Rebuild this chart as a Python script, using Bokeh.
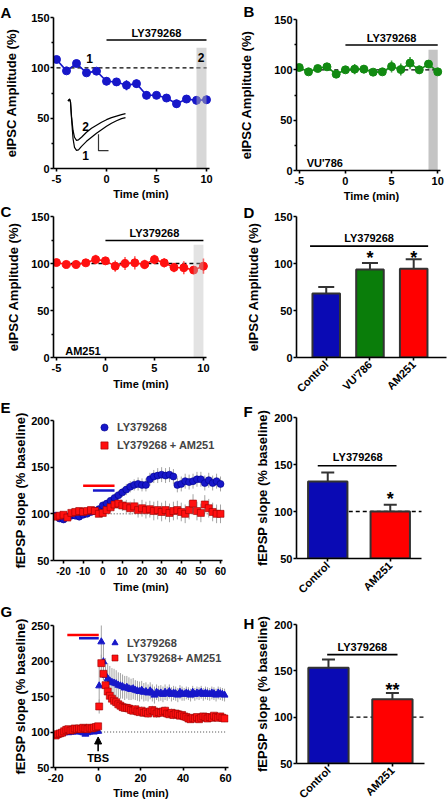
import math
from bokeh.plotting import figure
from bokeh.layouts import row, column
from bokeh.models import (Range1d, FixedTicker, Legend, LegendItem,
                          Whisker, TeeHead, Arrow, NormalHead, ColumnDataSource)
from bokeh.embed import file_html
from bokeh.resources import INLINE
from bokeh.core.properties import value

FONT = "Liberation Sans"
BLUE = "#1717c9"
BLUE_BAR = "#0a0ab4"
GREEN = "#128a12"
GREEN_ERR = "#3fa33f"
GREEN_BAR = "#0a7d0a"
RED = "#ff1010"
RED_ERR = "#ff5a5a"
RED_BAR = "#ff0000"
GREY_ERR = "#a3a3a3"

# ---------------- data ----------------
# A-C: eIPSC amplitude (%) vs time (min)
eipsc_time = [-5, -4, -3, -2, -1, 0, 1, 2, 3, 4, 5, 6, 7, 8, 9, 10]
a_amp = [108.3, 97.0, 104.3, 95.0, 96.7, 86.7, 86.0, 82.7, 84.3, 72.7, 72.7, 70.0, 64.3, 69.0, 67.7, 68.3]
a_sem = [3, 2, 3, 3, 3, 4, 4, 5, 4, 4, 3, 3, 4, 3, 4, 4]
b_amp = [102.3, 98.0, 101.3, 103.0, 95.7, 100.0, 100.7, 100.7, 97.7, 98.0, 103.3, 100.3, 106.7, 100.0, 105.7, 98.0]
b_sem = [2, 2, 2, 2, 3, 2, 5, 4, 3, 2, 6, 6, 6, 4, 4, 2]
c_amp = [101.0, 99.0, 99.0, 100.7, 104.2, 102.8, 97.2, 100.0, 100.7, 99.0, 104.2, 100.7, 95.8, 95.5, 93.0, 97.2]
c_sem = [2, 2, 2, 3, 5, 4, 6, 7, 7, 5, 5, 5, 5, 7, 4, 8]
eipsc_xticks = [-5, 0, 5, 10]
eipsc_yticks = [0, 50, 100, 150]

# A inset: representative eIPSC traces (1 = baseline, 2 = LY379268)
trace_x = [-3.85, -3.7, -3.6, -3.5, -3.35, -3.2, -3.0, -2.8, -2.5, -2.0, -1.5, -1.0, -0.5, 0.0, 0.5, 1.0, 1.5, 1.9]
trace1_y = [67, 69, 66, 50, 30, 21, 18, 18.5, 22, 27, 31, 35, 38.5, 42, 45, 47.5, 49.5, 50.5]
trace2_y = [67, 69, 66, 52, 38, 31, 28, 28.5, 31, 36, 40, 43, 46, 48.5, 50.5, 52, 53.5, 54.5]
scalebar_x = [-0.8, -0.8, 0.2]
scalebar_y = [34, 17.7, 17.7]

# D: summary bars
d_groups = ["Control", "VU'786", "AM251"]
d_mean = [68.0, 93.5, 94.5]
d_sem = [7.0, 7.0, 10.0]

# E: fEPSP slope time course
e_time = [-24, -22, -20, -18, -16, -14, -12, -10, -8, -6, -4, -2, 0, 2, 4, 6, 8, 10, 12, 14, 16, 18,
          20, 22, 24, 26, 28, 30, 32, 34, 36, 38, 40, 42, 44, 46, 48, 50, 52, 54, 56, 58, 60]
e_ly = [98, 95, 94, 97, 98, 98, 97, 99, 100, 102, 103, 105, 109, 111, 114, 117, 120, 123, 126, 129, 131, 132,
        131, 131, 137, 140, 141, 142, 141, 142, 140, 131, 132, 135, 134, 135, 137, 137, 133, 136, 133, 135, 132]
e_ly_sem = [3, 3, 3, 3, 3, 3, 3, 3, 3, 3, 3, 3, 4, 4, 4, 5, 5, 5, 6, 6, 6, 7,
            7, 7, 7, 7, 8, 8, 8, 8, 8, 8, 8, 8, 8, 8, 8, 8, 8, 8, 8, 8, 8]
e_am = [97, 98, 99, 96, 101, 102, 103, 102, 103, 104, 103, 100, 101, 104, 107, 110, 111, 109, 108, 106, 108, 104,
        106, 104, 105, 103, 104, 102, 104, 101, 103, 104, 102, 100, 104, 111, 103, 101, 110, 106, 102, 100, 100]
e_am_sem = [3, 3, 3, 3, 3, 3, 3, 3, 3, 3, 3, 3, 4, 4, 5, 5, 6, 6, 7, 7, 8, 8,
            9, 9, 9, 10, 10, 10, 10, 10, 10, 10, 10, 10, 10, 10, 10, 10, 10, 10, 10, 10, 10]
e_xticks = [-20, -10, 0, 10, 20, 30, 40, 50, 60]

# F: summary bars
f_groups = ["Control", "AM251"]
f_mean = [132.0, 100.0]
f_sem = [9.4, 7.3]

# G: LTP after TBS
g_time = [-20, -19, -18, -17, -16, -15, -14, -13, -12, -11, -10, -9, -8, -7, -6, -5, -4, -3, -2, -1, 0,
          0.5, 1.5, 2.5, 3.5, 4.5, 5.5, 6.5, 7.5, 8.5, 9.5, 10.5, 11.5, 12.5, 13.5, 14.5, 15.5, 16.5, 17.5, 18.5, 19.5,
          20.5, 21.5, 22.5, 23.5, 24.5, 25.5, 26.5, 27.5, 28.5, 29.5, 30.5, 31.5, 32.5, 33.5, 34.5, 35.5, 36.5, 37.5,
          38.5, 39.5, 40.5, 41.5, 42.5, 43.5, 44.5, 45.5, 46.5, 47.5, 48.5, 49.5, 50.5, 51.5, 52.5, 53.5, 54.5, 55.5,
          56.5, 57.5, 58.5, 59.5]
g_ly = [94, 96, 97, 98, 99, 100, 99, 100, 100, 101, 100, 101, 100, 99, 97, 99, 100, 101, 100, 101, 101,
        165, 227, 199, 180, 175, 172, 170, 169, 168, 166,
        165, 164, 162, 163, 161, 160, 161, 159, 158, 157,
        159, 156, 157, 155, 158, 155, 152, 156, 154, 155,
        153, 156, 154, 157, 153, 155, 154, 152, 156, 154,
        153, 155, 154, 152, 156, 153, 155, 154, 156, 153,
        155, 154, 153, 155, 154, 152, 155, 154, 153, 152]
g_ly_sem = [3, 3, 3, 3, 3, 3, 3, 3, 3, 3, 3, 3, 3, 3, 3, 3, 3, 3, 3, 3, 3,
            30, 30, 26, 24, 22, 21, 20, 20, 19, 18,
            18, 17, 17, 16, 16, 15, 15, 14, 14, 14,
            13, 13, 13, 12, 12, 12, 12, 11, 11, 11,
            11, 11, 10, 10, 10, 10, 10, 10, 10, 10,
            9, 9, 9, 9, 9, 9, 9, 9, 9, 9,
            9, 9, 9, 9, 9, 9, 9, 9, 9, 9]
g_am = [95, 97, 98, 99, 101, 103, 104, 102, 103, 105, 104, 105, 104, 106, 105, 104, 106, 105, 106, 107, 108,
        136, 197, 182, 166, 157, 151, 147, 144, 142, 139,
        137, 135, 134, 134, 133, 131, 130, 132, 129, 128,
        130, 127, 128, 126, 129, 131, 129, 126, 128, 127,
        129, 130, 126, 125, 127, 124, 126, 125, 123, 124,
        122, 121, 119, 118, 120, 119, 121, 118, 120, 122,
        121, 119, 121, 120, 123, 121, 120, 122, 120, 119]
g_am_sem = [3, 3, 3, 3, 3, 3, 3, 3, 3, 3, 3, 3, 3, 3, 3, 3, 3, 3, 3, 3, 3,
            10, 12, 9, 8, 8, 7, 7, 7, 6, 6,
            6, 6, 6, 6, 6, 6, 6, 6, 6, 6,
            6, 6, 6, 6, 6, 6, 6, 6, 6, 6,
            6, 6, 6, 6, 6, 6, 6, 6, 6, 6,
            5, 5, 5, 5, 5, 5, 5, 5, 5, 5,
            5, 5, 5, 5, 5, 5, 5, 5, 5, 5]
g_xticks = [-20, 0, 20, 40, 60]

# H: summary bars
h_groups = ["Control", "AM251"]
h_mean = [153.3, 119.2]
h_sem = [8.8, 7.0]

# drug application periods (min)
e_red_period = [-10, 6]
e_blue_period = [-5, 6]
g_red_period = [-14.5, 0.3]
g_blue_period = [-9, 0.3]

# shared borders per column (plots in a column get aligned frames)
LW, LL, LR = 236, 53, 8
RW, RL, RR = 212, 54, 2


# ---------------- helpers ----------------
def make_fig(w, h, l, r, t, b, xr, yr, letter, letter_offset, letter_standoff, valign="bottom"):
    p = figure(width=w, height=h, x_range=Range1d(*xr), y_range=Range1d(*yr),
               min_border_left=l, min_border_right=r, min_border_top=t, min_border_bottom=b,
               output_backend="svg", toolbar_location=None, tools="", title=letter)
    p.outline_line_color = None
    p.grid.visible = False
    p.background_fill_color = "white"
    p.border_fill_color = "white"
    p.title.text_font = FONT
    p.title.text_font_style = "bold"
    p.title.text_font_size = "15px"
    p.title.text_color = "black"
    p.title.align = "left"
    p.title.vertical_align = valign
    p.title.offset = letter_offset
    p.title.standoff = letter_standoff
    return p


def hyphen_labels(ticks):
    return {t: (("-" + str(abs(t))) if t < 0 else str(t)) for t in ticks}


def axis_style(p, xlabel, ylabel, xs, ys):
    for ax in p.axis:
        ax.axis_line_width = 1.6
        ax.axis_line_color = "black"
        ax.major_tick_line_width = 1.6
        ax.major_tick_line_color = "black"
        ax.minor_tick_line_width = 1.3
        ax.minor_tick_line_color = "black"
        ax.major_tick_in = 0
        ax.major_tick_out = 3
        ax.minor_tick_in = 0
        ax.minor_tick_out = 2
        ax.major_label_text_font = FONT
        ax.major_label_text_font_style = "bold"
        ax.major_label_text_font_size = "11px"
        ax.major_label_text_color = "black"
        ax.axis_label_text_font = FONT
        ax.axis_label_text_font_style = "bold"
        ax.axis_label_text_color = "black"
    xa = p.xaxis[0]
    ya = p.yaxis[0]
    xa.major_label_standoff = 3
    ya.major_label_standoff = 1
    xa.axis_label = xlabel
    ya.axis_label = ylabel
    xa.axis_label_text_font_size = "11px"
    ya.axis_label_text_font_size = "13px"
    xa.axis_label_standoff = xs
    ya.axis_label_standoff = ys


def txt(p, xs, ys, ss, size="11px", align="center", baseline="middle"):
    p.text(x=xs, y=ys, text=ss, text_font=value(FONT), text_font_style="bold",
           text_font_size=size, text_align=align, text_baseline=baseline, text_color="black")


def hbar(p, x0, x1, y, color="black", width=1.6):
    p.segment(x0=[x0], y0=[y], x1=[x1], y1=[y], line_color=color, line_width=width)


def time_panel(p, amp, sem, col, ecol, band_on_top, band_color, band_alpha):
    lo = [a - e for a, e in zip(amp, sem)]
    hi = [a + e for a, e in zip(amp, sem)]
    if not band_on_top:
        p.quad(left=[9], right=[10], bottom=[0], top=[120], fill_color=band_color,
               fill_alpha=band_alpha, line_color=None)
    p.line(x=[-5, 10], y=[100, 100], line_dash="4 3", line_color="black", line_width=1.3)
    p.segment(x0=eipsc_time, y0=lo, x1=eipsc_time, y1=hi, line_color=ecol, line_width=1.6)
    p.line(x=eipsc_time, y=amp, line_color=col, line_width=1.6)
    p.scatter(x=eipsc_time, y=amp, marker="circle", size=8, fill_color=col, line_color=col)
    if band_on_top:
        p.quad(left=[9], right=[10], bottom=[0], top=[120], fill_color=band_color,
               fill_alpha=band_alpha, line_color=None)
    p.xaxis.ticker = FixedTicker(ticks=eipsc_xticks)
    p.xaxis.major_label_overrides = hyphen_labels(eipsc_xticks)
    p.xaxis.bounds = (-5.3, 10.3)
    p.yaxis.ticker = FixedTicker(ticks=eipsc_yticks, minor_ticks=[25, 75, 125])


def bar_panel(p, n, means, sems, colors, labels, cap):
    xs = list(range(n))
    p.vbar(x=xs, top=means, bottom=p.y_range.start, width=0.63, fill_color=colors,
           line_color="#333333", line_width=2)
    src = ColumnDataSource(dict(x=xs, lower=means, upper=[m + s for m, s in zip(means, sems)]))
    p.add_layout(Whisker(source=src, base="x", lower="lower", upper="upper", dimension="height",
                         line_color="#333333", line_width=2, lower_head=None,
                         upper_head=TeeHead(size=cap, line_color="#333333", line_width=2)))
    p.xaxis.ticker = FixedTicker(ticks=xs)
    p.xaxis.major_label_overrides = {i: lab for i, lab in zip(xs, labels)}
    p.xaxis.major_label_orientation = math.pi / 4
    p.xaxis.major_label_standoff = 2


def legend(p, items, loc, gsize, lwidth, standoff):
    p.add_layout(Legend(items=[LegendItem(label=value(lab), renderers=[r]) for lab, r in items],
                        location=loc, padding=0, spacing=0, margin=0,
                        glyph_width=gsize, glyph_height=gsize, label_height=gsize, label_width=lwidth,
                        label_standoff=standoff, label_text_font=FONT, label_text_font_style="bold",
                        label_text_font_size="11px", border_line_color=None, background_fill_alpha=0))


# ---------------- A ----------------
pA = make_fig(LW, 202, LL, LR, 17, 34, (-5.3, 12.2), (0, 150), "A", -LL, -6)
axis_style(pA, "Time (min)", "eIPSC Amplitude (%)", 2, 9)
time_panel(pA, a_amp, a_sem, BLUE, BLUE, True, "#b0b0b0", 0.5)
pA.line(x=trace_x, y=trace1_y, line_color="black", line_width=1.2)
pA.line(x=trace_x, y=trace2_y, line_color="black", line_width=1.2)
pA.line(x=scalebar_x, y=scalebar_y, line_color="#333333", line_width=1.2)
txt(pA, [-2.1, -2.1], [41.7, 12.9], ["2", "1"], size="12px")
txt(pA, [-1.7, 9.45], [109, 110], ["1", "2"], size="12px")
hbar(pA, 0, 10, 127.7)
txt(pA, [5], [135], ["LY379268"])

# ---------------- B ----------------
pB = make_fig(RW, 204, RL, RR, 19, 34, (-5.3, 10.95), (0, 150), "B", -RL + 1, -1)
axis_style(pB, "Time (min)", "eIPSC Amplitude (%)", 2, 17)
time_panel(pB, b_amp, b_sem, GREEN, GREEN_ERR, False, "#c4c4c4", 1.0)
hbar(pB, 0, 10, 124.7)
txt(pB, [5], [131.7], ["LY379268"])
txt(pB, [-4.2], [7], ["VU'786"], align="left")

# ---------------- C ----------------
pC = make_fig(LW, 190, LL, LR, 14, 34, (-5.3, 12.56), (0, 150), "C", -LL, -6)
axis_style(pC, "Time (min)", "eIPSC Amplitude (%)", 3, 7)
time_panel(pC, c_amp, c_sem, RED, RED_ERR, True, "#b8b8b8", 0.4)
hbar(pC, 0, 10, 124.5)
txt(pC, [5], [132.5], ["LY379268"])
txt(pC, [-4.1], [7.4], ["AM251"], align="left")

# ---------------- D ----------------
pD = make_fig(RW, 198, RL, RR, 12, 45, (-0.68, 2.75), (0, 150), "D", -RL + 1, -8)
axis_style(pD, None, "eIPSC Amplitude (%)", 0, 10)
pD.yaxis.ticker = FixedTicker(ticks=eipsc_yticks)
bar_panel(pD, 3, d_mean, d_sem, [BLUE_BAR, GREEN_BAR, RED_BAR], d_groups, 16)
hbar(pD, -0.37, 2.33, 118.5)
txt(pD, [0.98], [127], ["LY379268"])
txt(pD, [1, 2], [106, 106], ["*", "*"], size="18px", baseline="alphabetic")

# ---------------- E ----------------
pE = make_fig(LW, 203, LL, LR, 25, 34, (-25.1, 64.07), (50, 200), "E", -LL, 9)
axis_style(pE, "Time (min)", "fEPSP slope (% baseline)", 3, 0)
pE.xaxis.ticker = FixedTicker(ticks=e_xticks)
pE.xaxis.major_label_overrides = hyphen_labels(e_xticks)
pE.xaxis.major_label_text_font_size = "10px"
pE.xaxis.bounds = (-25.1, 61)
pE.yaxis.ticker = FixedTicker(ticks=[50, 100, 150, 200])
pE.line(x=[-25, 61], y=[100, 100], line_dash="1 2", line_color="#444444", line_width=1)
pE.segment(x0=e_time, y0=[v - s for v, s in zip(e_ly, e_ly_sem)], x1=e_time,
           y1=[v + s for v, s in zip(e_ly, e_ly_sem)], line_color=GREY_ERR, line_width=1)
pE.segment(x0=e_time, y0=[v - s for v, s in zip(e_am, e_am_sem)], x1=e_time,
           y1=[v + s for v, s in zip(e_am, e_am_sem)], line_color=GREY_ERR, line_width=1)
rEb = pE.scatter(x=e_time, y=e_ly, marker="circle", size=7, fill_color=BLUE, line_color="#00008b", line_width=0.6)
rEr = pE.scatter(x=e_time, y=e_am, marker="square", size=7, fill_color=RED, line_color="#990000", line_width=0.6)
hbar(pE, e_red_period[0], e_red_period[1], 130, color="#ff0000", width=2.5)
hbar(pE, e_blue_period[0], e_blue_period[1], 125, color=BLUE, width=2.5)
legend(pE, [("LY379268", rEb), ("LY379268 + AM251", rEr)], (42, 106), 18, 110, 4)

# ---------------- F ----------------
pF = make_fig(RW, 201, RL, RR, 15, 45, (-0.5, 1.9), (50, 200), "F", -RL + 1, -5)
axis_style(pF, None, "fEPSP slope (% baseline)", 0, 1)
pF.xaxis.bounds = (-0.5, 1.5)
pF.yaxis.ticker = FixedTicker(ticks=[50, 100, 150, 200])
pF.line(x=[0, 1.5], y=[100, 100], line_dash="4 3", line_color="black", line_width=1.3)
bar_panel(pF, 2, f_mean, f_sem, [BLUE_BAR, RED_BAR], f_groups, 13)
hbar(pF, -0.16, 1.1, 148.6)
txt(pF, [0.48], [158], ["LY379268"])
txt(pF, [1], [113], ["*"], size="18px", baseline="alphabetic")

# ---------------- G ----------------
pG = make_fig(LW, 213, LL, LR, 29, 41, (-21, 61.35), (50, 250), "G", -LL, 11)
axis_style(pG, "Time (min)", "fEPSP slope (% baseline)", 2, 0)
pG.xaxis.ticker = FixedTicker(ticks=g_xticks)
pG.xaxis.major_label_overrides = hyphen_labels(g_xticks)
pG.yaxis.ticker = FixedTicker(ticks=[50, 100, 150, 200, 250])
pG.line(x=[0, 60], y=[100, 100], line_dash="1 2", line_color="#444444", line_width=1)
pG.segment(x0=g_time, y0=[v - s for v, s in zip(g_ly, g_ly_sem)], x1=g_time,
           y1=[v + s for v, s in zip(g_ly, g_ly_sem)], line_color=GREY_ERR, line_width=1)
pG.segment(x0=g_time, y0=[v - s for v, s in zip(g_am, g_am_sem)], x1=g_time,
           y1=[v + s for v, s in zip(g_am, g_am_sem)], line_color=GREY_ERR, line_width=1)
rGb = pG.scatter(x=g_time, y=g_ly, marker="triangle", size=7, fill_color=BLUE, line_color=BLUE)
rGr = pG.scatter(x=g_time, y=g_am, marker="square", size=7, fill_color=RED, line_color="#990000", line_width=0.6)
hbar(pG, g_red_period[0], g_red_period[1], 236.6, color="#ff0000", width=2.5)
hbar(pG, g_blue_period[0], g_blue_period[1], 232, color=BLUE, width=2.5)
pG.add_layout(Arrow(end=NormalHead(size=7, fill_color="black", line_color="black"),
                    x_start=0, y_start=73, x_end=0, y_end=93, line_width=1.6, line_color="black"))
txt(pG, [0], [63], ["TBS"])
legend(pG, [("LY379268", rGb), ("LY379268+ AM251", rGr)], (54, 102), 15, 105, 5)

# ---------------- H ----------------
pH = make_fig(RW, 205, RL, RR, 21, 45, (-0.5, 1.846), (50, 200), "H", -RL + 1, -14)
axis_style(pH, None, "fEPSP slope (% baseline)", 0, 1)
pH.xaxis.bounds = (-0.5, 1.5)
pH.yaxis.ticker = FixedTicker(ticks=[50, 100, 150, 200])
pH.line(x=[0, 1.5], y=[100, 100], line_dash="4 3", line_color="black", line_width=1.3)
bar_panel(pH, 2, h_mean, h_sem, [BLUE_BAR, RED_BAR], h_groups, 13)
hbar(pH, -0.02, 1.08, 167.5)
txt(pH, [0.53], [176], ["LY379268"])
txt(pH, [1], [129], ["**"], size="18px", baseline="alphabetic")

left = column(pA, pC, pE, pG, spacing=0)
right = column(pB, pD, pF, pH, spacing=0)
layout = row(left, right, spacing=0)

open("out.html", "w").write(file_html(layout, INLINE))
